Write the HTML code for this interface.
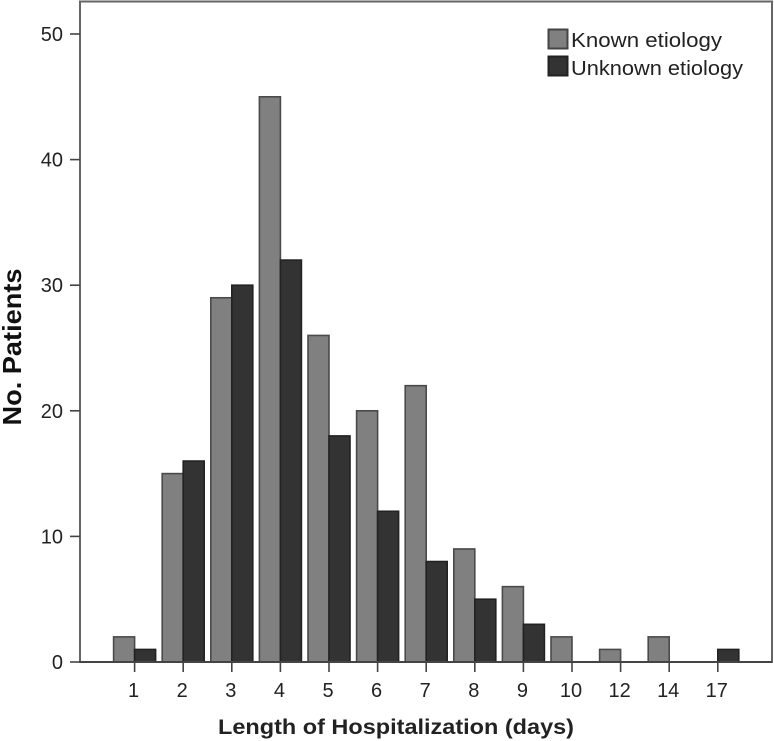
<!DOCTYPE html>
<html>
<head>
<meta charset="utf-8">
<title>Length of Hospitalization</title>
<style>
html,body{margin:0;padding:0;background:#fff;}
svg{display:block;font-family:"Liberation Sans",sans-serif;}
</style>
</head>
<body>
<svg id="chart" width="774" height="741" viewBox="0 0 774 741" xmlns="http://www.w3.org/2000/svg">
  <rect x="80" y="1.5" width="692" height="660.5" fill="#fff" stroke="#666" stroke-width="2"/>
  <g id="bars"></g>
  <g id="axes"></g>
  <text transform="translate(21,347) rotate(-90)" text-anchor="middle" font-size="26" font-weight="bold" fill="#111" textLength="157" lengthAdjust="spacingAndGlyphs">No. Patients</text>
  <text x="396" y="734" text-anchor="middle" font-size="21" font-weight="bold" fill="#222" textLength="356" lengthAdjust="spacingAndGlyphs">Length of Hospitalization (days)</text>
  <rect x="548.5" y="29.5" width="19" height="19" fill="#808080" stroke="#444" stroke-width="2"/>
  <text x="571" y="47" font-size="20" fill="#222" textLength="151" lengthAdjust="spacingAndGlyphs">Known etiology</text>
  <rect x="548.5" y="56.5" width="19" height="19" fill="#333" stroke="#222" stroke-width="2"/>
  <text x="571" y="75" font-size="20" fill="#222" textLength="172" lengthAdjust="spacingAndGlyphs">Unknown etiology</text>
</svg>
<script>
const categories = ['1','2','3','4','5','6','7','8','9','10','12','14','17'];
const knownValues = [2,15,29,45,26,20,22,9,6,2,1,2,0];
const unknownValues = [1,16,30,32,18,12,8,5,3,0,0,0,1];
const yTicks = [0,10,20,30,40,50];

const NS = 'http://www.w3.org/2000/svg';
const barWidth = 21;
function xScale(i){ return 134.6 + i * 48.6; }
function yScale(v){ return 662 - v * 12.56; }
function make(tag, attrs, parent){
  const el = document.createElementNS(NS, tag);
  for (const k in attrs) el.setAttribute(k, attrs[k]);
  parent.appendChild(el);
  return el;
}
const barsG = document.getElementById('bars');
const axesG = document.getElementById('axes');

function drawBar(x, v, fill, stroke, name){
  if (v <= 0) return;
  const r = make('rect', {x: x, y: yScale(v), width: barWidth, height: yScale(0) - yScale(v), fill: fill, stroke: stroke, 'stroke-width': 1.6}, barsG);
  
  
}
categories.forEach(function(c, i){
  const cx = xScale(i);
  drawBar(cx - barWidth, knownValues[i], '#808080', '#4a4a4a', 'bar-known-' + c);
  drawBar(cx, unknownValues[i], '#333333', '#222222', 'bar-unknown-' + c);
  const t = make('line', {x1: cx, x2: cx, y1: yScale(0), y2: yScale(0) + 10, stroke: '#444', 'stroke-width': 1.6}, axesG);
  
  
  const l = make('text', {x: cx - 1, y: 697, 'text-anchor': 'middle', 'font-size': 20, fill: '#222'}, axesG);
  
  
  l.textContent = c;
});
yTicks.forEach(function(v){
  const y = yScale(v);
  const t = make('line', {x1: 70, x2: 80, y1: y, y2: y, stroke: '#444', 'stroke-width': 1.6}, axesG);
  
  
  const l = make('text', {x: 63, y: y + 7, 'text-anchor': 'end', 'font-size': 20, fill: '#222'}, axesG);
  
  
  l.textContent = v;
});
const base = make('line', {x1: 80, x2: 772, y1: yScale(0), y2: yScale(0), stroke: '#444', 'stroke-width': 2}, axesG);


</script>
</body>
</html>
